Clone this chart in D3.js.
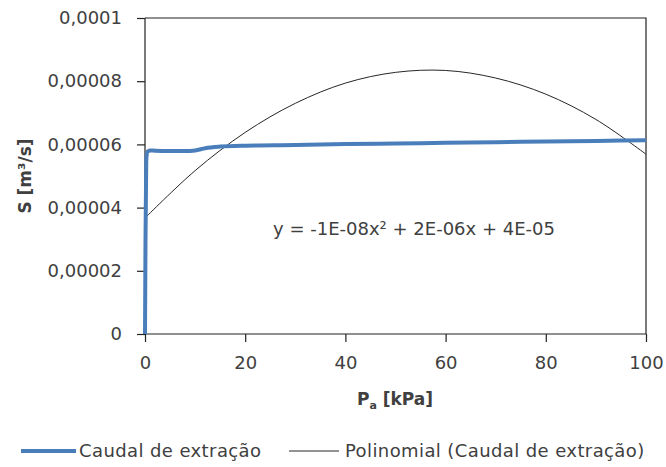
<!DOCTYPE html>
<html>
<head>
<meta charset="utf-8">
<script src="https://cdn.jsdelivr.net/npm/d3@7"></script>
<style>
  body { margin: 0; background: #fff; }
  text { font-family: "DejaVu Sans", sans-serif; fill: #404040; }
</style>
</head>
<body>
<div id="chart"></div>
<script>
const width = 666;
const height = 467;

const flowX = [0, 0.1, 0.25, 0.5, 1, 2, 5, 8, 10, 12, 15, 20, 30, 40, 50, 60, 70, 80, 90, 100];
const flowY = [0, 0.00003, 0.000055, 0.0000577, 0.0000581, 0.000058, 0.0000579, 0.0000579, 0.0000581, 0.0000588, 0.0000593, 0.0000596, 0.0000598, 0.0000601, 0.0000603, 0.0000605, 0.0000607, 0.0000609, 0.0000611, 0.0000613];

// Polynomial trendline
const trendX = [0, 10, 20, 30, 40, 50, 60, 70, 80, 90, 100];
const trendY = [0.0000367, 0.0000517, 0.0000638, 0.000073, 0.0000794, 0.0000828, 0.0000834, 0.000081, 0.0000759, 0.0000679, 0.0000569];

const xTicks = [0, 20, 40, 60, 80, 100];
const yTicks = [0, 0.00002, 0.00004, 0.00006, 0.00008, 0.0001];
const yTickLabels = ['0', '0,00002', '0,00004', '0,00006', '0,00008', '0,0001'];

const seriesName = 'Caudal de extração';
const trendName = 'Polinomial (Caudal de extração)';
const equation = 'y = -1E-08x² + 2E-06x + 4E-05';

const font = '"DejaVu Sans", sans-serif';
const fontSize = 18;

const margin = { left: 145, right: 20, top: 18, bottom: 133 };
const plotW = width - margin.left - margin.right;
const plotH = height - margin.top - margin.bottom;

const svg = d3.select('#chart')
  .append('svg')
  .attr('width', width)
  .attr('height', height);

const g = svg.append('g')
  .attr('transform', `translate(${margin.left}, ${margin.top})`);

const xScale = d3.scaleLinear().domain([0, 100]).range([0, plotW]);
const yScale = d3.scaleLinear().domain([0, 0.0001]).range([plotH, 0]);

// Plot border (top and right)
g.append('path')
  .attr('d', `M0,0H${plotW}V${plotH}`)
  .attr('fill', 'none')
  .attr('stroke', '#222')
  .attr('stroke-width', 1.2);

// Axes
const yAxis = d3.axisLeft(yScale)
  .tickValues(yTicks)
  .tickFormat((d, i) => yTickLabels[i])
  .tickSize(8)
  .tickPadding(15);
g.append('g')
  .attr('class', 'yAxis')
  .call(yAxis);

const xAxis = d3.axisBottom(xScale)
  .tickValues(xTicks)
  .tickSize(8)
  .tickPadding(14);
g.append('g')
  .attr('class', 'xAxis')
  .attr('transform', `translate(0, ${plotH})`)
  .call(xAxis);

g.selectAll('.domain, .tick line')
  .attr('stroke', '#222')
  .attr('stroke-width', 1.2);
g.selectAll('.tick text')
  .attr('font-family', font)
  .attr('font-size', fontSize)
  .attr('fill', '#404040');
// plain domain lines, no outer ticks
g.selectAll('.domain').attr('d', function () {
  return d3.select(this.parentNode).classed('xAxis') ? `M0,0H${plotW}` : `M0,0V${plotH}`;
});

// Trendline
const trendData = trendX.map((x, i) => ({ x: x, y: trendY[i] }));
g.append('path')
  .datum(trendData)
  .attr('fill', 'none')
  .attr('stroke', '#262626')
  .attr('stroke-width', 1)
  .attr('d', d3.line()
    .x(d => xScale(d.x))
    .y(d => yScale(d.y))
    .curve(d3.curveCatmullRom));

// Measured flow
const flowData = flowX.map((x, i) => ({ x: x, y: flowY[i] }));
g.append('path')
  .datum(flowData)
  .attr('fill', 'none')
  .attr('stroke', '#4a7ebb')
  .attr('stroke-width', 4)
  .attr('stroke-linejoin', 'round')
  .attr('d', d3.line()
    .x(d => xScale(d.x))
    .y(d => yScale(d.y))
    .curve(d3.curveMonotoneX));

// Equation label
svg.append('text')
  .attr('x', 414)
  .attr('y', 235)
  .attr('text-anchor', 'middle')
  .attr('font-size', fontSize)
  .text(equation);

// Axis titles
svg.append('text')
  .attr('transform', 'translate(31, 176) rotate(-90)')
  .attr('text-anchor', 'middle')
  .attr('font-size', 17)
  .attr('font-weight', 'bold')
  .text('S [m³/s]');

const xTitle = svg.append('text')
  .attr('x', 395)
  .attr('y', 405)
  .attr('text-anchor', 'middle')
  .attr('font-size', 17)
  .attr('font-weight', 'bold');
xTitle.append('tspan').text('P');
xTitle.append('tspan').attr('font-size', 11).attr('dy', 4).text('a');
xTitle.append('tspan').attr('dy', -4).text(' [kPa]');

// Legend
const legendY = 451;
svg.append('line')
  .attr('x1', 21).attr('x2', 76)
  .attr('y1', legendY).attr('y2', legendY)
  .attr('stroke', '#4a7ebb')
  .attr('stroke-width', 4);
svg.append('text')
  .attr('x', 79)
  .attr('y', legendY + 6)
  .attr('font-size', fontSize)
  .attr('letter-spacing', 0.4)
  .text(seriesName);
svg.append('line')
  .attr('x1', 289).attr('x2', 339)
  .attr('y1', legendY).attr('y2', legendY)
  .attr('stroke', '#262626')
  .attr('stroke-width', 1);
svg.append('text')
  .attr('x', 345)
  .attr('y', legendY + 6)
  .attr('font-size', fontSize)
  .attr('letter-spacing', 0.4)
  .text(trendName);
</script>
</body>
</html>
